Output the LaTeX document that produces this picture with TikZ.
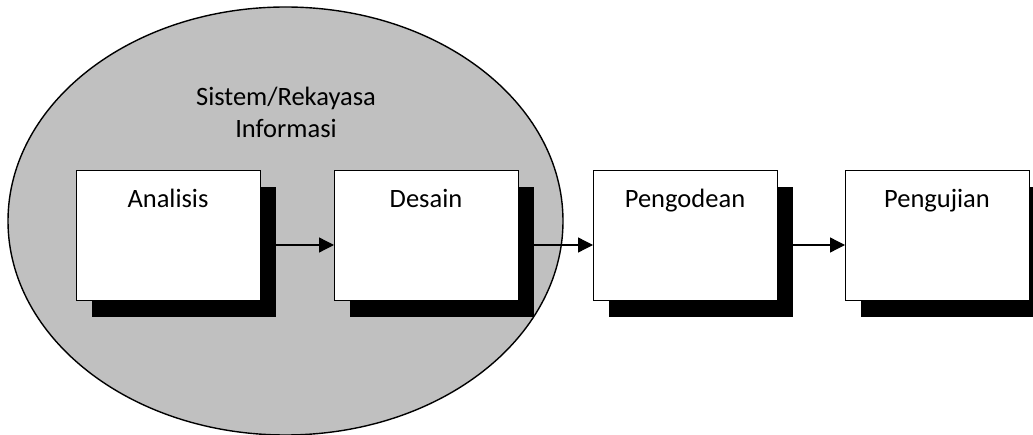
\documentclass[tikz,border=0pt]{standalone}
\usepackage{fontspec}
\setmainfont{Carlito}
\usepackage{xcolor}
\usetikzlibrary{shapes.geometric, arrows.meta, positioning, shadows}

\definecolor{abu}{RGB}{192,192,192}

\tikzset{
  tahap/.style={draw, line width=0.5pt, fill=white, rectangle, inner sep=0pt, outer sep=0pt,
    minimum width=92pt, text height=18.5pt, text depth=46.5pt,
    drop shadow={shadow xshift=8pt, shadow yshift=-8pt, fill=black, opacity=1}},
  alur/.style={line width=0.65pt, -{Triangle[length=7.5pt, width=7.5pt]}}
}

\begin{document}
\begin{tikzpicture}[font=\fontsize{13.25}{16}\selectfont]
\useasboundingbox (0,0) rectangle (516.5pt,217pt);
\node[draw, ellipse, fill=abu, line width=0.7pt, inner sep=0pt,
  minimum width=277.5pt, minimum height=214pt] (sistem) at (142.75pt,106.5pt) {};
\node[align=center, anchor=base] (judul) at (143pt,148pt) {Sistem/Rekayasa\\Informasi};

\node[tahap, anchor=north west] (analisis) at (38pt,131.5pt) {Analisis};
\node[tahap, right=37pt of analisis] (desain) {Desain};
\node[tahap, right=37.5pt of desain] (pengodean) {Pengodean};
\node[tahap, right=34pt of pengodean] (pengujian) {Pengujian};

\draw[alur] ([yshift=-4.5pt]analisis.east) -- ([yshift=-4.5pt]desain.west);
\draw[alur] ([yshift=-4.5pt]desain.east) -- ([yshift=-4.5pt]pengodean.west);
\draw[alur] ([yshift=-4.5pt]pengodean.east) -- ([yshift=-4.5pt]pengujian.west);
\end{tikzpicture}
\end{document}
